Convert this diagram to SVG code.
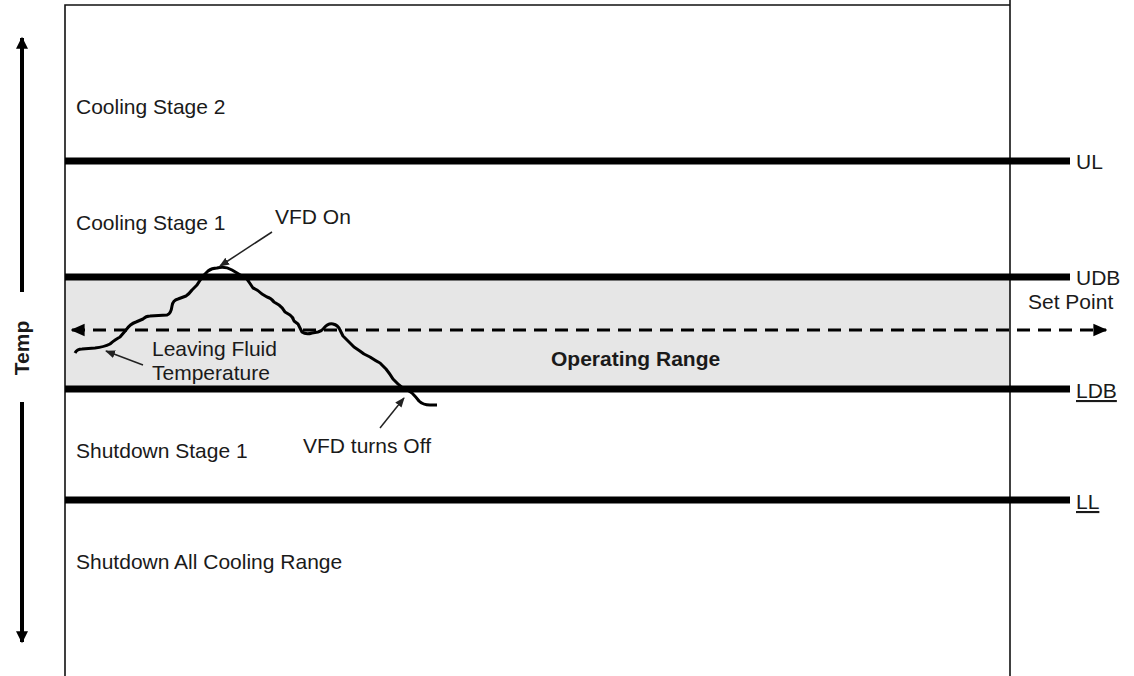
<svg xmlns="http://www.w3.org/2000/svg" width="1134" height="676" viewBox="0 0 1134 676">
<style>
.t{font-family:"Liberation Sans",Arial,sans-serif;font-size:21px;fill:#1a1a1a}
.b{font-weight:bold}
.lvl{stroke:#000;stroke-width:7}
.thin{stroke:#111;stroke-width:1.6;fill:none}
.ptr{stroke:#222;stroke-width:1.5;fill:none;marker-end:url(#sa)}
</style>
<defs>
<marker id="sa" viewBox="0 0 10 10" refX="9" refY="5" markerWidth="10" markerHeight="10" markerUnits="userSpaceOnUse" orient="auto"><path d="M0,1 L10,5 L0,9 z" fill="#222"/></marker>
<marker id="da" viewBox="0 0 10 10" refX="9" refY="5" markerWidth="14" markerHeight="14" markerUnits="userSpaceOnUse" orient="auto-start-reverse"><path d="M0,0.5 L10,5 L0,9.5 z" fill="#000"/></marker>
<marker id="ta" viewBox="0 0 10 10" refX="9" refY="5" markerWidth="16" markerHeight="12" markerUnits="userSpaceOnUse" orient="auto"><path d="M0,0 L10,5 L0,10 z" fill="#000"/></marker>
</defs>
<rect width="1134" height="676" fill="#fff"/>
<g id="band"><rect x="65" y="277" width="945" height="111" fill="#e6e6e6"/></g>
<g id="frame">
<path class="thin" d="M65,676 V5 H1010"/>
<path class="thin" d="M1010,0 V676"/>
</g>
<g id="levels">
<line class="lvl" x1="65" y1="161" x2="1070" y2="161"/>
<line class="lvl" x1="65" y1="277" x2="1070" y2="277"/>
<line class="lvl" x1="65" y1="389" x2="1070" y2="389"/>
<line class="lvl" x1="65" y1="500" x2="1070" y2="500"/>
</g>
<g id="connectors">
<line x1="72" y1="330" x2="1106" y2="330" stroke="#000" stroke-width="3" stroke-dasharray="13,8" marker-start="url(#da)" marker-end="url(#da)"/>
<line x1="22" y1="292" x2="22" y2="38" stroke="#000" stroke-width="4" marker-end="url(#ta)"/>
<line x1="22" y1="402" x2="22" y2="642" stroke="#000" stroke-width="4" marker-end="url(#ta)"/>
<path id="lft" d="M75,353 Q77,349 82,349 L95,348 Q104,347 110,344 Q116,339 120,337 L126,330 Q130,324 136,322 L143,319 Q146,316 150,316 L167,315 Q171,314 172,306 Q173,300 178,299 L186,296 Q189,294 192,290 L197,285 Q200,280 203,276 L208,271 Q212,268 217,268 Q225,266 232,270 Q237,273 242,276 Q247,278 249,282 L253,288 Q258,290 262,294 L267,297 Q271,298 274,302 L279,305 Q283,308 285,312 L290,315 Q293,317 294,321 L298,324 Q300,328 302,332 Q306,335 312,333 L318,332 Q322,331 324,328 Q328,323 333,324 Q338,325 340,330 L343,336 Q347,340 351,344 L354,347 Q360,351 364,354 L370,357 Q376,361 380,363 L386,369 Q390,374 393,379 L398,384 Q402,388 406,389 L412,393 Q416,397 419,401 Q423,405 430,405 L437,405" fill="none" stroke="#000" stroke-width="3" stroke-linejoin="round"/>
<line class="ptr" x1="272" y1="232" x2="220" y2="266"/>
<line class="ptr" x1="143" y1="365" x2="106" y2="351"/>
<line class="ptr" x1="380" y1="428" x2="404" y2="398"/>
</g>
<g id="labels">
<text class="t" x="76" y="114">Cooling Stage 2</text>
<text class="t" x="76" y="230">Cooling Stage 1</text>
<text class="t" x="275" y="224">VFD On</text>
<text class="t" x="152" y="356">Leaving Fluid</text>
<text class="t" x="152" y="380">Temperature</text>
<text class="t b" x="551" y="366">Operating Range</text>
<text class="t" x="76" y="458">Shutdown Stage 1</text>
<text class="t" x="303" y="453">VFD turns Off</text>
<text class="t" x="76" y="569">Shutdown All Cooling Range</text>
<text class="t" x="1076" y="169">UL</text>
<text class="t" x="1076" y="285">UDB</text>
<text class="t" x="1028" y="309">Set Point</text>
<text class="t" x="1076" y="398" text-decoration="underline">LDB</text>
<text class="t" x="1076" y="509" text-decoration="underline">LL</text>
<text class="t b" transform="translate(29,348) rotate(-90)" text-anchor="middle">Temp</text>
</g>
</svg>
